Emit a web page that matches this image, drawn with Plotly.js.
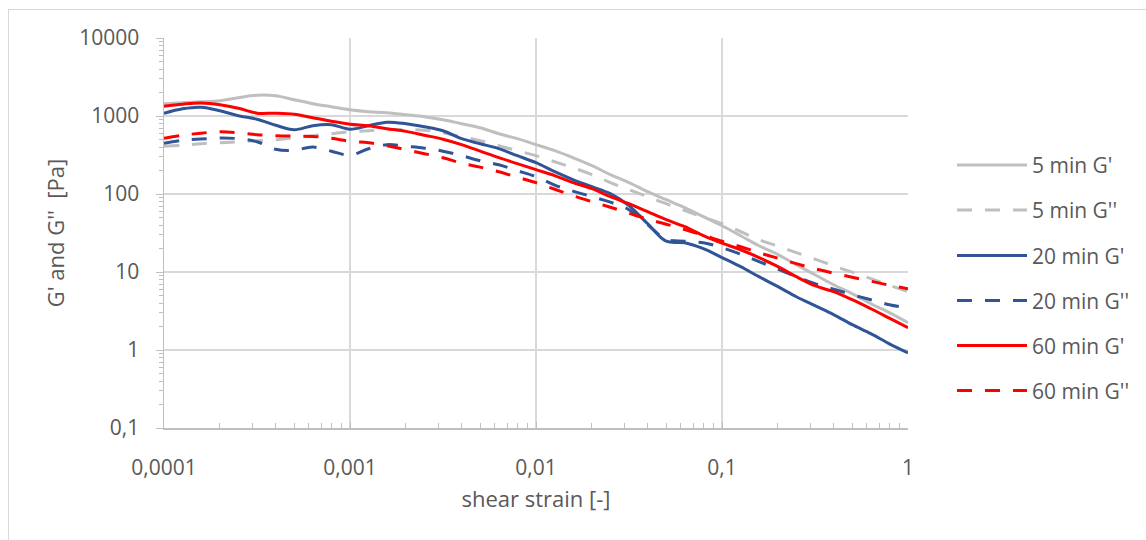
<!DOCTYPE html>
<html>
<head>
<meta charset="utf-8">
<script src="https://cdn.plot.ly/plotly-3.0.1.min.js"></script>
<style>
html,body{margin:0;padding:0;background:#fff;}
#wrap{position:relative;width:1146px;height:540px;overflow:hidden;}
#chart{width:1146px;height:540px;}
#frame{position:absolute;left:8px;top:9px;width:1200px;height:600px;border-left:1px solid #d9d9d9;border-top:1px solid #d9d9d9;pointer-events:none;}
</style>
</head>
<body>
<div id="wrap"><div id="chart"></div><div id="frame"></div></div>
<script>
// shear strain [-]
const strain = [
  0.0001, 0.000126, 0.000158, 0.0002, 0.000251, 0.000316, 0.000398, 0.000501, 0.000631, 0.000794,
  0.001, 0.00126, 0.00158, 0.002, 0.00251, 0.00316, 0.00398, 0.00501, 0.00631, 0.00794,
  0.01, 0.0126, 0.0158, 0.02, 0.0251, 0.0316, 0.0398, 0.0501, 0.0631, 0.0794,
  0.1, 0.126, 0.158, 0.2, 0.251, 0.316, 0.398, 0.501, 0.631, 0.794, 1
];
// moduli [Pa]
const g5Storage = [
  1438, 1481, 1525, 1571, 1717, 1848, 1821, 1618, 1438, 1316,
  1204, 1135, 1103, 1039, 979, 896, 797, 708, 593, 512,
  429, 359, 292, 231, 177, 140, 107, 84.5, 66.7, 51.2,
  39.2, 29.2, 21.7, 16.7, 12.4, 9.23, 6.87, 5.27, 3.92, 3.01, 2.24
];
const g5Loss = [
  410, 422, 441, 455, 468, 482, 497, 527, 559, 593,
  629, 648, 667, 667, 657, 611, 543, 482, 416, 359,
  310, 259, 217, 177, 140, 114, 92.3, 75.1, 61.1, 50.4,
  41.6, 32.9, 25.9, 21.4, 17.7, 14.6, 12.0, 9.94, 8.21, 6.77, 5.59
];
const g20Storage = [
  1086, 1241, 1297, 1169, 1009, 910, 762, 667, 751, 773,
  677, 751, 833, 797, 729, 648, 512, 441, 381, 310,
  252, 193, 153, 124, 101, 70.8, 41.6, 24.8, 23.7, 19.9,
  15.3, 11.7, 8.71, 6.48, 4.82, 3.70, 2.84, 2.11, 1.62, 1.20, 0.92
];
const g20Loss = [
  448, 489, 507, 522, 512, 468, 375, 364, 400, 354,
  314, 381, 429, 408, 387, 354, 310, 267, 237, 199,
  167, 130, 109, 92.3, 78.5, 62.9, 40.4, 26.3, 24.8, 23.7,
  20.5, 16.9, 13.6, 10.9, 8.71, 7.08, 6.02, 5.12, 4.41, 3.81, 3.44
];
const g60Storage = [
  1335, 1417, 1467, 1395, 1259, 1086, 1086, 1055, 951, 858,
  785, 751, 687, 635, 567, 504, 429, 354, 292, 245,
  205, 172, 140, 117, 92.3, 75.1, 59.3, 46.8, 38.1, 29.2,
  23.4, 19.3, 15.3, 11.7, 8.71, 6.67, 5.59, 4.41, 3.38, 2.56, 1.93
];
const g60Loss = [
  519, 567, 602, 629, 611, 576, 559, 551, 548, 519,
  475, 455, 416, 370, 329, 292, 248, 221, 193, 164,
  140, 115, 95.1, 79.7, 67.7, 56.7, 47.5, 41.0, 34.9, 29.6,
  24.8, 21.1, 17.7, 15.0, 12.8, 11.0, 9.65, 8.58, 7.62, 6.77, 6.11
];

const seriesNames = ["5 min G'", "5 min G''", "20 min G'", "20 min G''", "60 min G'", "60 min G''"];
const seriesValues = [g5Storage, g5Loss, g20Storage, g20Loss, g60Storage, g60Loss];

const xTickVals = [0.0001, 0.001, 0.01, 0.1, 1];
const xTickText = ["0,0001", "0,001", "0,01", "0,1", "1"];
const yTickVals = [0.1, 1, 10, 100, 1000, 10000];
const yTickText = ["0,1", "1", "10", "100", "1000", "10000"];

// styles
const colors = ["#BFBFBF", "#BFBFBF", "#2F5597", "#2F5597", "#FF0000", "#FF0000"];
const dashes = ["solid", "15px,13px", "solid", "15px,13px", "solid", "15px,13px"];

function minorTicks(lo, hi) {
  const out = [];
  for (let e = lo; e < hi; e++) {
    for (let k = 2; k <= 9; k++) out.push(k * Math.pow(10, e));
  }
  return out;
}

const traces = seriesNames.map((name, i) => ({
  type: "scatter",
  mode: "lines",
  name: name,
  x: strain,
  y: seriesValues[i],
  line: { color: colors[i], width: 3, dash: dashes[i], shape: "spline", smoothing: 1 },
  showlegend: false,
  hoverinfo: "skip"
}));

const M = { l: 164, r: 238, t: 38, b: 112 };
const PW = 1146 - M.l - M.r, PH = 540 - M.t - M.b;
const px2x = px => (px - M.l) / PW;
const py2y = py => (540 - M.b - py) / PH;

const font = "'Open Sans', 'Noto Sans', sans-serif";
const txtColor = "#595959";

const legendY = [165, 210, 255.5, 300.5, 345.5, 390.5];
const shapes = [];
const annotations = [];
seriesNames.forEach((name, i) => {
  shapes.push({
    type: "line", xref: "paper", yref: "paper",
    x0: px2x(957), x1: px2x(1027), y0: py2y(legendY[i]), y1: py2y(legendY[i]),
    line: { color: colors[i], width: 3, dash: dashes[i] }
  });
  annotations.push({
    xref: "paper", yref: "paper", x: px2x(1030), y: py2y(legendY[i]),
    xanchor: "left", yanchor: "middle", showarrow: false, text: name,
    font: { family: font, size: 21, color: txtColor }
  });
});

const layout = {
  width: 1146, height: 540,
  margin: M,
  paper_bgcolor: "rgba(0,0,0,0)", plot_bgcolor: "#ffffff",
  showlegend: false,
  font: { family: font, color: txtColor },
  xaxis: {
    type: "log", range: [-4, 0], tickmode: "array", tickvals: xTickVals, ticktext: xTickText,
    showgrid: true, gridcolor: "#D9D9D9", gridwidth: 1.5, zeroline: false,
    showline: true, linecolor: "#BFBFBF", linewidth: 1.5,
    ticks: "inside", ticklen: 6, tickcolor: "#BFBFBF", tickwidth: 1,
    minor: { tickmode: "array", tickvals: minorTicks(-4, 0), ticks: "inside", ticklen: 5, tickcolor: "#BFBFBF", tickwidth: 1, showgrid: false },
    tickfont: { family: font, size: 21, color: txtColor },
    ticklabelstandoff: 20,
    title: { text: "shear strain [-]", font: { family: font, size: 22, color: txtColor }, standoff: 12 },
    fixedrange: true
  },
  yaxis: {
    type: "log", range: [-1, 4], tickmode: "array", tickvals: yTickVals, ticktext: yTickText,
    showgrid: true, gridcolor: "#D9D9D9", gridwidth: 1.5, zeroline: false,
    showline: true, linecolor: "#BFBFBF", linewidth: 1.5,
    ticks: "outside", ticklen: 7, tickcolor: "#BFBFBF", tickwidth: 1,
    minor: { tickmode: "array", tickvals: minorTicks(-1, 4), ticks: "outside", ticklen: 4, tickcolor: "#BFBFBF", tickwidth: 1, showgrid: false },
    tickfont: { family: font, size: 21, color: txtColor },
    ticklabelstandoff: 12,
    title: { text: "G' and G''  [Pa]", font: { family: font, size: 22, color: txtColor }, standoff: 8 },
    fixedrange: true
  },
  shapes: shapes,
  annotations: annotations
};

Plotly.newPlot("chart", traces, layout, { staticPlot: true, displayModeBar: false });
</script>
</body>
</html>
